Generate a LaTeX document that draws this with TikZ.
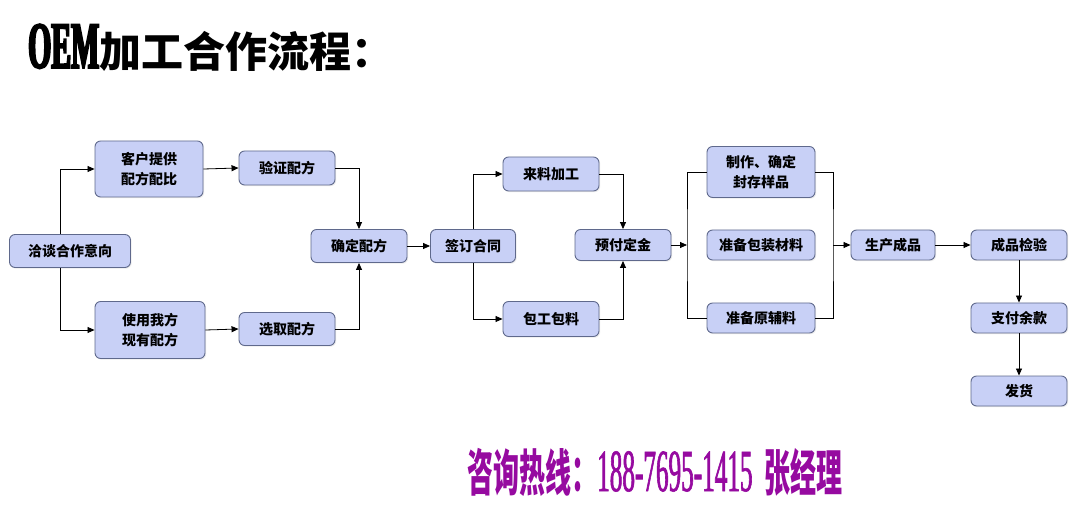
\documentclass[tikz,border=0pt]{standalone}
\usepackage{fontspec}
\usepackage{tikz}
\usetikzlibrary{arrows.meta,positioning,shadows}
\newfontfamily\cjk{Noto Sans CJK SC}
\newfontfamily\oemfont[FakeStretch=0.45,FakeBold=3]{Liberation Serif Bold}
\newfontfamily\hotcjk[FakeStretch=0.52]{Noto Sans CJK SC}
\newfontfamily\hotnum[FakeStretch=0.42,FakeBold=1]{Liberation Serif}
\definecolor{boxfill}{RGB}{200,208,246}
\definecolor{boxline}{RGB}{95,105,140}
\definecolor{hotpink}{RGB}{150,10,160}
\tikzset{
  stepbox/.style={rectangle, rounded corners=2mm, draw=boxline, line width=0.9pt,
                  fill=boxfill, align=center, inner sep=0pt,
                  font=\cjk\bfseries\fontsize{14}{20}\selectfont,
                  minimum height=33pt,
                  drop shadow={shadow xshift=1.2pt,shadow yshift=-1.2pt,opacity=0.15}},
  arr/.style={-{Triangle[length=7pt,width=6pt]}, line width=0.8pt, color=black},
  ln/.style={line width=0.8pt, color=black},
  titletext/.style={anchor=west, inner sep=0pt, font=\bfseries\fontsize{42}{46}\selectfont},
}

\begin{document}
\begin{tikzpicture}[x=1pt, y=-1pt]
  \fill[white] (0,0) rectangle (1080,505);
  \useasboundingbox (0,0) rectangle (1080,505);

  % ---- title ----
  \node[titletext, text=black] (title) at (28,48) {{\oemfont\mdseries\fontsize{66}{70}\selectfont OEM}{\cjk 加工合作流程：}};

  % ---- formula branch ----
  \node[stepbox, minimum width=121pt] (talk) at (70,251) {洽谈合作意向};
  \node[stepbox, minimum width=108pt, minimum height=56pt] (client) at (149,169) {客户提供\\配方配比};
  \node[stepbox, minimum width=110pt, minimum height=57pt] (ours) at (150,330) {使用我方\\现有配方};
  \node[stepbox, minimum width=96pt, minimum height=34pt] (verify) at (287,168) {验证配方};
  \node[stepbox, minimum width=96pt] (select) at (287,329) {选取配方};
  \node[stepbox, minimum width=96pt] (confirm) at (359,246) {确定配方};

  \draw[arr] ([xshift=-10pt]talk.north) |- (client.west);
  \draw[arr] ([xshift=-10pt]talk.south) |- (ours.west);
  \draw[arr] (client.east) -- (verify.west);
  \draw[arr] (ours.east) -- (select.west);
  \draw[arr] (verify.east) -| (confirm.north);
  \draw[arr] (select.east) -| (confirm.south);

  % ---- contract branch ----
  \node[stepbox, minimum width=85pt] (sign) at (473,246) {签订合同};
  \node[stepbox, minimum width=96pt, minimum height=34pt] (supplied) at (551,174) {来料加工};
  \node[stepbox, minimum width=96pt, minimum height=35pt] (turnkey) at (551,319) {包工包料};
  \node[stepbox, minimum width=96pt, minimum height=31pt] (deposit) at (623,245) {预付定金};

  \draw[arr] (confirm.east) -- (sign.west);
  \draw[arr] (sign.north) |- (supplied.west);
  \draw[arr] (sign.south) |- (turnkey.west);
  \draw[arr] (supplied.east) -| (deposit.north);
  \draw[arr] (turnkey.east) -| (deposit.south);

  % ---- preparation and delivery ----
  \node[stepbox, minimum width=108pt, minimum height=51pt] (sample) at (761,172) {制作、确定\\封存样品};
  \node[stepbox, minimum width=108pt, minimum height=30pt] (packing) at (761,245) {准备包装材料};
  \node[stepbox, minimum width=108pt, minimum height=30pt] (material) at (761,318) {准备原辅料};
  \node[stepbox, minimum width=84pt, minimum height=30pt] (produce) at (893,245) {生产成品};
  \node[stepbox, minimum width=96pt, minimum height=30pt] (inspect) at (1019,245) {成品检验};
  \node[stepbox, minimum width=96pt, minimum height=30pt] (balance) at (1019,318) {支付余款};
  \node[stepbox, minimum width=96pt, minimum height=30pt] (ship) at (1019,391) {发货};

  \coordinate (forkin) at (687,245);
  \coordinate (forkout) at (833,245);
  \draw[arr] (deposit.east) -- (forkin);
  \draw[ln] (sample.west) -| (forkin) |- (material.west);
  \draw[ln] (sample.east) -| (forkout) |- (material.east);
  \draw[arr] (forkout) -- (produce.west);
  \draw[arr] (produce.east) -- (inspect.west);
  \draw[arr] (inspect.south) -- (balance.north);
  \draw[arr] (balance.south) -- (ship.north);

  % ---- hotline ----
  \node[anchor=west, inner sep=0pt, text=hotpink] (hotline) at (467,472)
    {{\hotcjk\bfseries\fontsize{50}{54}\selectfont 咨询热线：}{\hotnum\fontsize{60}{64}\selectfont 188-7695-1415}\hspace{12pt}{\hotcjk\bfseries\fontsize{50}{54}\selectfont 张经理}};
\end{tikzpicture}
\end{document}
